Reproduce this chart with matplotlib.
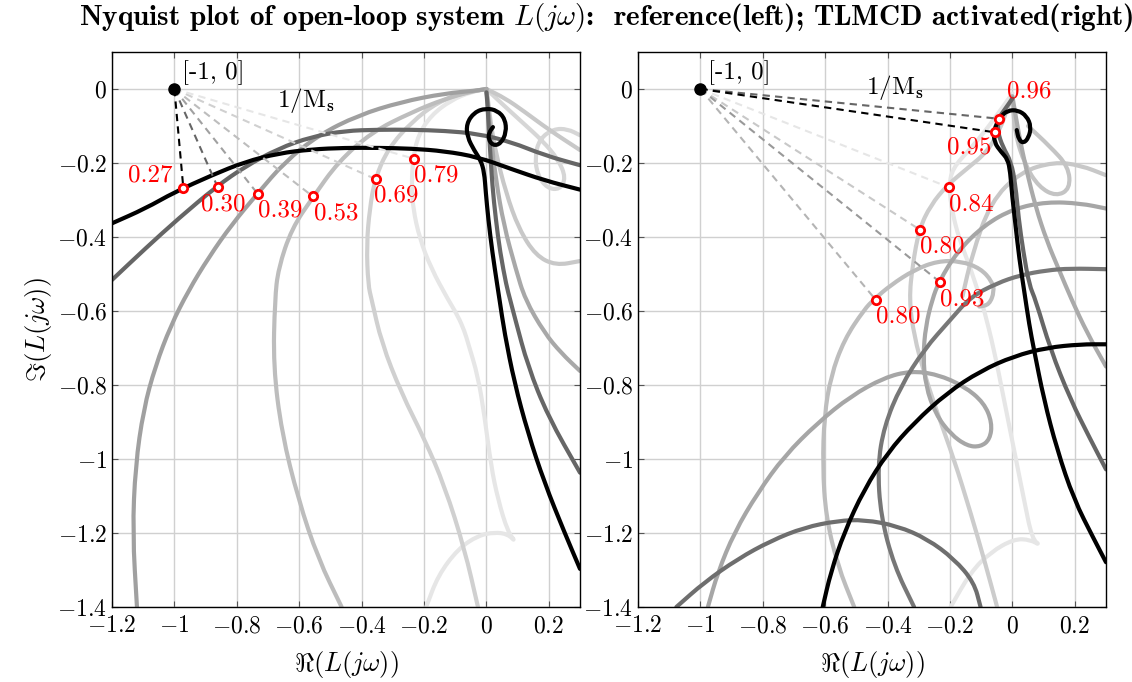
import numpy as np
import matplotlib.pyplot as plt
from matplotlib.path import Path
from matplotlib.patches import PathPatch
from matplotlib.ticker import FuncFormatter, MultipleLocator

plt.rcParams['font.family'] = 'serif'
plt.rcParams['font.serif'] = ['cmr10', 'DejaVu Serif']
plt.rcParams['mathtext.fontset'] = 'cm'
plt.rcParams['axes.unicode_minus'] = False

# ---- reference controller (left) : Nyquist branches [Re, Im] ----
ref_black_arc = np.array([[-1.2, -0.363], [-1.093, -0.323], [-1.0, -0.279], [-0.88, -0.233], [-0.774, -0.197],
                          [-0.667, -0.174], [-0.56, -0.163], [-0.454, -0.159], [-0.347, -0.159], [-0.24, -0.161],
                          [-0.134, -0.168], [-0.027, -0.184], [0.079, -0.216], [0.186, -0.247], [0.3, -0.272]])
ref_black_spiral = np.array([[0.021, -0.103], [0.009, -0.117], [0.006, -0.135], [0.021, -0.153], [0.046, -0.148],
                             [0.064, -0.117], [0.060, -0.081], [0.035, -0.058], [-0.002, -0.052], [-0.039, -0.063],
                             [-0.064, -0.094], [-0.061, -0.130], [-0.039, -0.166], [-0.018, -0.193], [-0.007, -0.225],
                             [-0.002, -0.279], [0.006, -0.351], [0.019, -0.441], [0.035, -0.531], [0.042, -0.569],
                             [0.058, -0.659], [0.090, -0.794], [0.133, -0.929], [0.186, -1.064], [0.250, -1.198],
                             [0.3, -1.297]])
ref_dark_arc = np.array([[-1.2, -0.516], [-1.093, -0.431], [-0.987, -0.350], [-0.863, -0.262], [-0.774, -0.210],
                         [-0.667, -0.161], [-0.56, -0.129], [-0.454, -0.113], [-0.347, -0.110], [-0.24, -0.110],
                         [-0.134, -0.113], [-0.027, -0.121], [0.079, -0.143], [0.186, -0.179], [0.3, -0.206]])
ref_dark_tail = np.array([[0.0, -0.009], [0.003, -0.036], [0.006, -0.081], [0.011, -0.153], [0.019, -0.261],
                          [0.030, -0.351], [0.044, -0.441], [0.064, -0.531], [0.076, -0.569], [0.092, -0.621],
                          [0.133, -0.749], [0.197, -0.884], [0.3, -1.037]])
ref_gray_arc = np.array([[-1.120, -1.40], [-1.134, -1.198], [-1.125, -1.019], [-1.099, -0.866], [-1.061, -0.749],
                         [-1.012, -0.640], [-0.955, -0.545], [-0.89, -0.455], [-0.815, -0.365], [-0.734, -0.283],
                         [-0.646, -0.197], [-0.539, -0.125], [-0.411, -0.071], [-0.273, -0.035], [-0.134, -0.012],
                         [-0.027, -0.004], [0.0, 0.0]])
ref_gray_tail = np.array([[0.0, 0.0], [0.003, -0.027], [0.014, -0.126], [0.030, -0.243], [0.056, -0.369],
                          [0.094, -0.486], [0.124, -0.569], [0.186, -0.659], [0.239, -0.713], [0.3, -0.762]])
ref_light1_arc = np.array([[-0.464, -1.40], [-0.539, -1.270], [-0.603, -1.109], [-0.656, -0.929], [-0.683, -0.749],
                           [-0.678, -0.569], [-0.667, -0.485], [-0.624, -0.377], [-0.555, -0.291], [-0.475, -0.197],
                           [-0.368, -0.117], [-0.24, -0.063], [-0.134, -0.027], [-0.049, -0.007], [0.0, 0.0]])
ref_light1_loop = np.array([[0.0, 0.0], [0.005, -0.03], [0.015, -0.10], [0.030, -0.171], [0.062, -0.279],
                            [0.104, -0.378], [0.158, -0.450], [0.222, -0.477], [0.3, -0.465]])
ref_light2_arc = np.array([[-0.027, -1.40], [-0.070, -1.243], [-0.134, -1.073], [-0.198, -0.947], [-0.273, -0.821],
                           [-0.336, -0.686], [-0.368, -0.569], [-0.379, -0.529], [-0.384, -0.422], [-0.374, -0.323],
                           [-0.357, -0.242], [-0.315, -0.161], [-0.24, -0.089], [-0.155, -0.035], [-0.07, -0.009],
                           [0.0, 0.0]])
ref_light2_loop = np.array([[0.0, 0.0], [0.05, -0.04], [0.115, -0.09], [0.18, -0.14], [0.23, -0.19],
                            [0.255, -0.24], [0.235, -0.272], [0.195, -0.268], [0.165, -0.235], [0.155, -0.185],
                            [0.17, -0.135], [0.215, -0.108], [0.26, -0.108], [0.3, -0.125]])
ref_light2_hood = np.array([[0.0, 0.0], [0.06, -0.025], [0.12, -0.06], [0.20, -0.11], [0.3, -0.165]])
ref_light3_arc = np.array([[-0.193, -1.40], [-0.155, -1.315], [-0.091, -1.243], [-0.027, -1.207], [0.026, -1.198],
                           [0.069, -1.203], [0.095, -1.225], [0.069, -1.198], [0.037, -1.109], [0.015, -1.019],
                           [-0.006, -0.884], [-0.027, -0.776], [-0.059, -0.686], [-0.070, -0.655], [-0.091, -0.614],
                           [-0.123, -0.569], [-0.177, -0.485], [-0.214, -0.404], [-0.235, -0.323], [-0.240, -0.260],
                           [-0.235, -0.188], [-0.219, -0.125], [-0.177, -0.071], [-0.113, -0.030], [-0.049, -0.008],
                           [0.0, 0.0]])

# 1/Ms distances and the phase (deg, seen from -1) where they occur
ref_ms = [0.27, 0.30, 0.39, 0.53, 0.69, 0.79]
ref_ms_phase = [-83.9, -62.4, -46.7, -33.2, -20.7, -13.8]
ref_ms_color = ['#000000', '#666666', '#a0a0a0', '#bdbdbd', '#d0d0d0', '#e6e6e6']

# ---- TLMCD activated (right) ----
tl_black_spiral = np.array([[0.014, -0.111], [0.020, -0.136], [0.035, -0.147], [0.052, -0.132], [0.060, -0.102],
                            [0.046, -0.073], [0.017, -0.057], [-0.015, -0.058], [-0.039, -0.075], [-0.060, -0.111],
                            [-0.058, -0.145], [-0.036, -0.170], [-0.015, -0.190], [-0.007, -0.224], [-0.001, -0.287],
                            [0.010, -0.368], [0.022, -0.458], [0.038, -0.547], [0.054, -0.637], [0.069, -0.704],
                            [0.101, -0.839], [0.143, -0.974], [0.197, -1.109], [0.261, -1.216], [0.3, -1.279]])
tl_black_arc = np.array([[-0.608, -1.40], [-0.582, -1.306], [-0.539, -1.198], [-0.475, -1.082], [-0.400, -0.983],
                         [-0.315, -0.902], [-0.209, -0.821], [-0.102, -0.762], [0.005, -0.722], [0.111, -0.699],
                         [0.218, -0.690], [0.3, -0.690]])
tl_dark_tail = np.array([[0.0, -0.026], [-0.026, -0.057], [-0.045, -0.080], [-0.047, -0.116], [-0.031, -0.156],
                         [-0.004, -0.197], [0.010, -0.260], [0.020, -0.350], [0.035, -0.440], [0.054, -0.530],
                         [0.074, -0.569], [0.122, -0.704], [0.186, -0.839], [0.250, -0.947], [0.3, -1.028]])
tl_dark_arc = np.array([[-1.077, -1.40], [-0.987, -1.333], [-0.880, -1.270], [-0.774, -1.221], [-0.667, -1.185],
                        [-0.560, -1.167], [-0.475, -1.164], [-0.368, -1.181], [-0.273, -1.216], [-0.187, -1.270],
                        [-0.123, -1.333], [-0.102, -1.40]])
tl_mid_arc = np.array([[-0.315, -1.40], [-0.379, -1.289], [-0.422, -1.154], [-0.432, -1.019], [-0.411, -0.911],
                       [-0.358, -0.803], [-0.283, -0.704], [-0.198, -0.623], [-0.134, -0.562], [-0.05, -0.525],
                       [0.026, -0.503], [0.11, -0.490], [0.186, -0.485], [0.3, -0.487]])
tl_gray_arc = np.array([[-0.976, -1.40], [-0.944, -1.306], [-0.891, -1.198], [-0.816, -1.091], [-0.731, -0.992],
                        [-0.624, -0.902], [-0.518, -0.830], [-0.411, -0.780], [-0.326, -0.762], [-0.241, -0.771],
                        [-0.155, -0.803], [-0.091, -0.848], [-0.065, -0.902], [-0.072, -0.947], [-0.102, -0.967],
                        [-0.145, -0.965], [-0.198, -0.933], [-0.246, -0.879], [-0.278, -0.803], [-0.286, -0.722],
                        [-0.278, -0.641], [-0.257, -0.569], [-0.235, -0.520], [-0.177, -0.440], [-0.091, -0.368],
                        [0.005, -0.323], [0.111, -0.305], [0.218, -0.309], [0.3, -0.323]])
tl_gray_tail = np.array([[0.0, -0.02], [0.02, -0.12], [0.045, -0.22], [0.075, -0.32], [0.11, -0.41],
                         [0.15, -0.49], [0.19, -0.57], [0.24, -0.66], [0.3, -0.75]])
tl_light1_ell = np.array([[-0.507, -1.40], [-0.560, -1.288], [-0.598, -1.154], [-0.608, -1.019], [-0.603, -0.884],
                          [-0.582, -0.776], [-0.539, -0.677], [-0.475, -0.596], [-0.443, -0.568], [-0.390, -0.530],
                          [-0.315, -0.489], [-0.240, -0.465], [-0.166, -0.465], [-0.102, -0.485], [-0.065, -0.52],
                          [-0.058, -0.547], [-0.074, -0.583], [-0.106, -0.588]])
tl_light1_loop = np.array([[0.0, -0.02], [0.008, -0.12], [0.04, -0.205], [0.085, -0.265], [0.14, -0.29],
                           [0.185, -0.27], [0.18, -0.21], [0.12, -0.155], [0.05, -0.10]])
tl_light2_arc = np.array([[-0.049, -1.40], [-0.091, -1.270], [-0.134, -1.145], [-0.187, -1.001], [-0.241, -0.875],
                          [-0.283, -0.767], [-0.315, -0.668], [-0.331, -0.569], [-0.320, -0.476], [-0.299, -0.379],
                          [-0.262, -0.314], [-0.209, -0.260], [-0.145, -0.215], [-0.081, -0.170], [-0.04, -0.11],
                          [-0.015, -0.05], [0.0, -0.02]])
tl_light2_wide = np.array([[-0.16, -0.56], [-0.13, -0.45], [-0.07, -0.305], [0.026, -0.224], [0.133, -0.197],
                           [0.218, -0.206], [0.3, -0.233]])
tl_light3_arc = np.array([[-0.198, -1.40], [-0.134, -1.306], [-0.070, -1.252], [0.005, -1.216], [0.058, -1.218],
                          [0.090, -1.234], [0.063, -1.216], [0.037, -1.109], [0.005, -0.974], [-0.027, -0.839],
                          [-0.059, -0.704], [-0.091, -0.596], [-0.102, -0.569], [-0.134, -0.485], [-0.171, -0.404],
                          [-0.193, -0.332], [-0.203, -0.266], [-0.193, -0.215], [-0.134, -0.161], [-0.081, -0.107],
                          [-0.027, -0.044], [0.0, -0.012]])

tl_ms = [0.96, 0.95, 0.84, 0.80, 0.93, 0.80]
tl_ms_phase = [-4.8, -7.07, -18.45, -28.4, -34.2, -45.4]
tl_ms_color = ['#666666', '#000000', '#e6e6e6', '#c8c8c8', '#999999', '#b4b4b4']

# label offsets (points) for the 1/Ms values
ref_lbl_off = [(-8, 9, 'right', 'center'), (-12, -4, 'left', 'top'), (0, -4, 'left', 'top'),
               (1, -4, 'left', 'top'), (-1, -4, 'left', 'top'), (0, -4, 'left', 'top')]
tl_lbl_off = [(6, 12, 'left', 'bottom'), (-2, -3, 'right', 'top'), (0, -4, 'left', 'top'),
              (0, -4, 'left', 'top'), (0, -4, 'left', 'top'), (0, -4, 'left', 'top')]

ref_curves = [(ref_light3_arc, '#e6e6e6'), (ref_light2_arc, '#d0d0d0'), (ref_light2_loop, '#d6d6d6'),
              (ref_light2_hood, '#c8c8c8'), (ref_light1_arc, '#bdbdbd'), (ref_light1_loop, '#c8c8c8'),
              (ref_gray_arc, '#a0a0a0'), (ref_gray_tail, '#a8a8a8'), (ref_dark_arc, '#666666'),
              (ref_dark_tail, '#666666'), (ref_black_arc, '#000000'), (ref_black_spiral, '#000000')]
tl_curves = [(tl_light3_arc, '#e6e6e6'), (tl_light2_arc, '#cccccc'), (tl_light2_wide, '#c8c8c8'),
             (tl_light1_ell, '#bdbdbd'), (tl_light1_loop, '#c4c4c4'), (tl_gray_arc, '#a6a6a6'),
             (tl_gray_tail, '#aaaaaa'), (tl_mid_arc, '#777777'), (tl_dark_arc, '#6e6e6e'),
             (tl_dark_tail, '#666666'), (tl_black_arc, '#000000'), (tl_black_spiral, '#000000')]


def fmt(v, pos):
    return '$%g$' % round(v, 2)


def smooth_path(pts):
    # quadratic Bezier through the midpoints, the points act as control points
    mids = (pts[:-1] + pts[1:]) / 2
    verts = [pts[0], mids[0]]
    codes = [Path.MOVETO, Path.LINETO]
    for i in range(1, len(pts) - 1):
        verts += [pts[i], mids[i]]
        codes += [Path.CURVE3, Path.CURVE3]
    verts.append(pts[-1])
    codes.append(Path.LINETO)
    return Path(verts, codes)


def nyquist_panel(ax, curves, ms, phase, colors, offsets, ms_xy):
    for c, col in curves:
        ax.add_patch(PathPatch(smooth_path(c), fill=False, edgecolor=col, lw=3,
                               capstyle='round', joinstyle='round', zorder=2))
    for d, ph, col, off in zip(ms, phase, colors, offsets):
        re = -1 + d * np.cos(np.radians(ph))
        im = d * np.sin(np.radians(ph))
        ax.plot([-1, re], [0, im], color=col, lw=1.5, dashes=(3.5, 2.5), zorder=3)
        ax.plot(re, im, 'o', ms=6, mfc='white', mec='red', mew=2, zorder=5)
        ax.annotate('%.2f' % d, (re, im), xytext=off[:2], textcoords='offset points',
                    ha=off[2], va=off[3], color='red', fontsize=18, zorder=6)
    ax.plot(-1, 0, 'o', color='black', ms=8, zorder=6)
    ax.text(-0.975, 0.045, '[-1, 0]', fontsize=18, va='center', ha='left')
    ax.text(ms_xy[0], ms_xy[1], r'1/M$_{\mathbf{s}}$', fontsize=18, va='center', ha='left')

    ax.set_xlim(-1.2, 0.3)
    ax.set_ylim(-1.4, 0.1)
    ax.xaxis.set_major_locator(MultipleLocator(0.2))
    ax.yaxis.set_major_locator(MultipleLocator(0.2))
    ax.xaxis.set_major_formatter(FuncFormatter(fmt))
    ax.yaxis.set_major_formatter(FuncFormatter(fmt))
    ax.grid(True, color='#d0d0d0', lw=1)
    ax.set_axisbelow(True)
    ax.tick_params(direction='in', top=True, right=True, length=4, labelsize=17, color='#555555')
    ax.tick_params(axis='x', pad=6)
    for s in ax.spines.values():
        s.set_linewidth(1)


fig = plt.figure(figsize=(11.32, 6.82), dpi=100)
axL = fig.add_axes([112 / 1132, 75 / 682, 468 / 1132, 555 / 682])
axR = fig.add_axes([638 / 1132, 75 / 682, 468 / 1132, 555 / 682])

nyquist_panel(axL, ref_curves, ref_ms, ref_ms_phase, ref_ms_color, ref_lbl_off, (-0.67, -0.03))
nyquist_panel(axR, tl_curves, tl_ms, tl_ms_phase, tl_ms_color, tl_lbl_off, (-0.47, 0.005))

fig.text(606 / 1132, 1 - 18 / 682,
         r'Nyquist plot of open-loop system $L(j\omega)$:  reference(left); TLMCD activated(right)',
         fontsize=21, family='cmb10', ha='center', va='center')
fig.text(38 / 1132, 1 - 330 / 682, r'$\Im(L(j\omega))$', fontsize=19, rotation=90, ha='center', va='center')
fig.text(346 / 1132, 1 - 664 / 682, r'$\Re(L(j\omega))$', fontsize=19, ha='center', va='center')
fig.text(872 / 1132, 1 - 664 / 682, r'$\Re(L(j\omega))$', fontsize=19, ha='center', va='center')

fig.savefig('out.png', dpi=100)
